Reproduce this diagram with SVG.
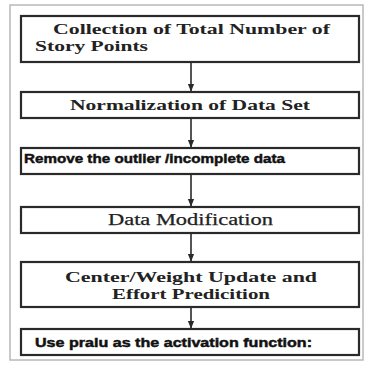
<svg xmlns="http://www.w3.org/2000/svg" width="365" height="367" viewBox="0 0 365 367">
  <style>
    .box { fill: #ffffff; stroke: #2a2a2a; stroke-width: 2.2; }
    .frame { fill: #ffffff; stroke: #b8b8b8; stroke-width: 1.5; }
    .serif { font-family: "Liberation Serif", "DejaVu Serif", serif; font-weight: bold; font-size: 14px; fill: #222222; }
    .serif-light { font-family: "Liberation Serif", "DejaVu Serif", serif; font-size: 16px; fill: #222222; stroke: #222222; stroke-width: 0.25; }
    .sans { font-family: "Liberation Sans", "DejaVu Sans", sans-serif; font-weight: bold; font-size: 12.5px; fill: #111111; stroke: #111111; stroke-width: 0.45; }
    .conn { stroke: #2a2a2a; stroke-width: 1.6; fill: none; marker-end: url(#head); }
  </style>
  <defs>
    <marker id="head" viewBox="0 0 10 10" refX="9" refY="5" markerWidth="5" markerHeight="5" orient="auto" markerUnits="strokeWidth">
      <path d="M0,1 L10,5 L0,9 Z" fill="#2a2a2a"/>
    </marker>
  </defs>

  <rect width="365" height="367" fill="#ffffff"/>
  <rect class="frame" x="10" y="5" width="353" height="355"/>

  <g id="connectors">
    <line class="conn" x1="191" y1="63" x2="191" y2="91"/>
    <line class="conn" x1="191" y1="119" x2="191" y2="147"/>
    <line class="conn" x1="191" y1="175" x2="191" y2="206"/>
    <line class="conn" x1="191" y1="234" x2="191" y2="261"/>
    <line class="conn" x1="191" y1="308" x2="191" y2="328"/>
  </g>

  <g id="collect">
    <rect class="box" x="21" y="16" width="338" height="46"/>
    <text class="serif" x="53" y="34" textLength="277" lengthAdjust="spacingAndGlyphs">Collection of Total Number of</text>
    <text class="serif" x="35" y="51" textLength="113" lengthAdjust="spacingAndGlyphs">Story Points</text>
  </g>

  <g id="normalize">
    <rect class="box" x="21" y="92" width="338" height="26"/>
    <text class="serif" x="70" y="110" textLength="240" lengthAdjust="spacingAndGlyphs">Normalization of Data Set</text>
  </g>

  <g id="remove">
    <rect class="box" x="21" y="148" width="338" height="26"/>
    <text class="sans" x="24" y="163" textLength="261" lengthAdjust="spacingAndGlyphs">Remove the outlier /incomplete data</text>
  </g>

  <g id="modify">
    <rect class="box" x="21" y="207" width="338" height="26"/>
    <text class="serif-light" x="108" y="225" textLength="165" lengthAdjust="spacingAndGlyphs">Data Modification</text>
  </g>

  <g id="update">
    <rect class="box" x="21" y="262" width="338" height="45"/>
    <text class="serif" x="65" y="282" textLength="252" lengthAdjust="spacingAndGlyphs">Center/Weight Update and</text>
    <text class="serif" x="112" y="299" textLength="158" lengthAdjust="spacingAndGlyphs">Effort Predicition</text>
  </g>

  <g id="activation">
    <rect class="box" x="21" y="329" width="338" height="26"/>
    <text class="sans" x="35" y="347" textLength="277" lengthAdjust="spacingAndGlyphs">Use pralu as the activation function:</text>
  </g>
</svg>
